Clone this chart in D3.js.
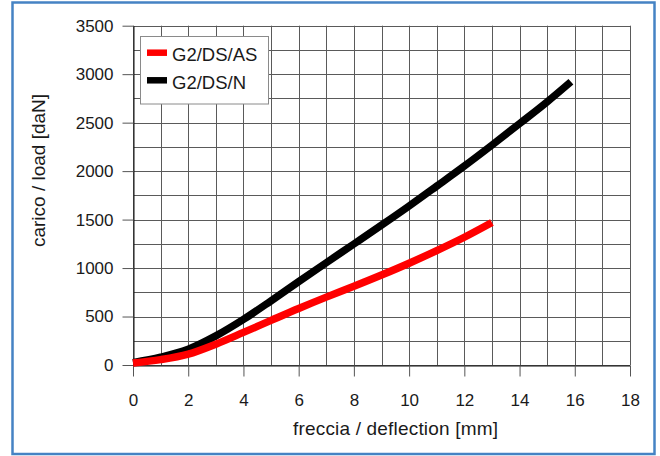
<!DOCTYPE html>
<html>
<head>
<meta charset="utf-8">
<script src="https://cdn.jsdelivr.net/npm/d3@7"></script>
<style>
  html, body { margin: 0; padding: 0; background: #fff; }
  svg { display: block; font-family: "Liberation Sans", Arial, sans-serif; }
</style>
</head>
<body>
<svg id="chart" width="660" height="456"></svg>
<script>
// ---- data ----
const seriesNames = ["G2/DS/AS", "G2/DS/N"];
const seriesColors = ["#ff0000", "#000000"];

const asX = [0, 1, 2, 3, 4, 5, 6, 7, 8, 9, 10, 11, 12, 13];
const asY = [20, 55, 112, 215, 336, 460, 583, 700, 812, 928, 1050, 1180, 1318, 1470];

const nX = [0, 1, 2, 3, 4, 5, 6, 7, 8, 9, 10, 11, 12, 13, 14, 15, 15.86];
const nY = [25, 80, 162, 300, 470, 662, 860, 1055, 1248, 1442, 1640, 1845, 2052, 2268, 2490, 2715, 2922];

const xTicks = [0, 2, 4, 6, 8, 10, 12, 14, 16, 18];
const yTicks = [0, 500, 1000, 1500, 2000, 2500, 3000, 3500];
const xGrid = d3.range(0, 19, 1);
const yGrid = d3.range(0, 3501, 250);

const xTitle = "freccia / deflection [mm]";
const yTitle = "carico / load [daN]";

// ---- drawing ----
const svg = d3.select("#chart");

// outer blue frame
svg.append("rect")
  .attr("x", 12.5).attr("y", 2.5)
  .attr("width", 642).attr("height", 451.5)
  .attr("fill", "#fff")
  .attr("stroke", "#4583c4").attr("stroke-width", 2.5);

const x = d3.scaleLinear().domain([0, 18]).range([133, 630]);
const y = d3.scaleLinear().domain([0, 3500]).range([365, 25.7]);

// grid
const grid = svg.append("g").attr("stroke", "#5a5a5a").attr("stroke-width", 1);
grid.selectAll("line.v").data(xGrid).join("line").attr("class", "v")
  .attr("x1", d => Math.round(x(d)) + 0.5).attr("x2", d => Math.round(x(d)) + 0.5)
  .attr("y1", y(3500)).attr("y2", y(0));
grid.selectAll("line.h").data(yGrid).join("line").attr("class", "h")
  .attr("y1", d => Math.round(y(d)) + 0.5).attr("y2", d => Math.round(y(d)) + 0.5)
  .attr("x1", x(0)).attr("x2", x(18));

// axes
const fmt = d3.format("d");
const xAxis = d3.axisBottom(x).tickValues(xTicks).tickFormat(fmt)
  .tickSize(11).tickPadding(17).tickSizeOuter(0);
const yAxis = d3.axisLeft(y).tickValues(yTicks).tickFormat(fmt)
  .tickSize(11).tickPadding(9).tickSizeOuter(0);

const gx = svg.append("g").attr("transform", `translate(0,${Math.round(y(0)) + 0.5})`).call(xAxis);
const gy = svg.append("g").attr("transform", `translate(${Math.round(x(0)) + 0.5},0)`).call(yAxis);
[gx, gy].forEach(g => {
  g.select(".domain").attr("stroke", "#111");
  g.selectAll(".tick line").attr("stroke", "#555");
  g.selectAll(".tick text").attr("fill", "#1a1a1a")
    .style("font-size", "17px")
    .style("font-family", '"Liberation Sans", Arial, sans-serif');
});

// titles
svg.append("text")
  .attr("x", 395.5).attr("y", 435)
  .attr("text-anchor", "middle")
  .attr("textLength", 205).attr("lengthAdjust", "spacing")
  .style("font-size", "19px").attr("fill", "#1a1a1a")
  .text(xTitle);

svg.append("text")
  .attr("transform", "translate(45,170.5) rotate(-90)")
  .attr("text-anchor", "middle")
  .style("font-size", "19px").attr("fill", "#1a1a1a")
  .text(yTitle);

// curves
const line = d3.line().x(d => x(d[0])).y(d => y(d[1])).curve(d3.curveMonotoneX);
const nData = nX.map((v, i) => [v, nY[i]]);
const asData = asX.map((v, i) => [v, asY[i]]);

svg.append("path").datum(nData)
  .attr("d", line).attr("fill", "none")
  .attr("stroke", seriesColors[1]).attr("stroke-width", 7.5)
  .attr("stroke-linecap", "butt").attr("stroke-linejoin", "round");

svg.append("path").datum(asData)
  .attr("d", line).attr("fill", "none")
  .attr("stroke", seriesColors[0]).attr("stroke-width", 7.5)
  .attr("stroke-linecap", "butt").attr("stroke-linejoin", "round");

// legend
const lg = svg.append("g");
lg.append("rect")
  .attr("x", 140.5).attr("y", 36.5).attr("width", 128).attr("height", 67.5)
  .attr("fill", "#fff").attr("stroke", "#8a8a8a").attr("stroke-width", 1);
const rowsY = [52.7, 80.3];
seriesNames.forEach((name, i) => {
  lg.append("line")
    .attr("x1", 147).attr("x2", 167)
    .attr("y1", rowsY[i]).attr("y2", rowsY[i])
    .attr("stroke", seriesColors[i]).attr("stroke-width", 6.5);
  lg.append("text")
    .attr("x", 172).attr("y", rowsY[i] + 8.5)
    .style("font-size", "18.5px").attr("fill", "#1a1a1a")
    .text(name);
});
</script>
</body>
</html>
